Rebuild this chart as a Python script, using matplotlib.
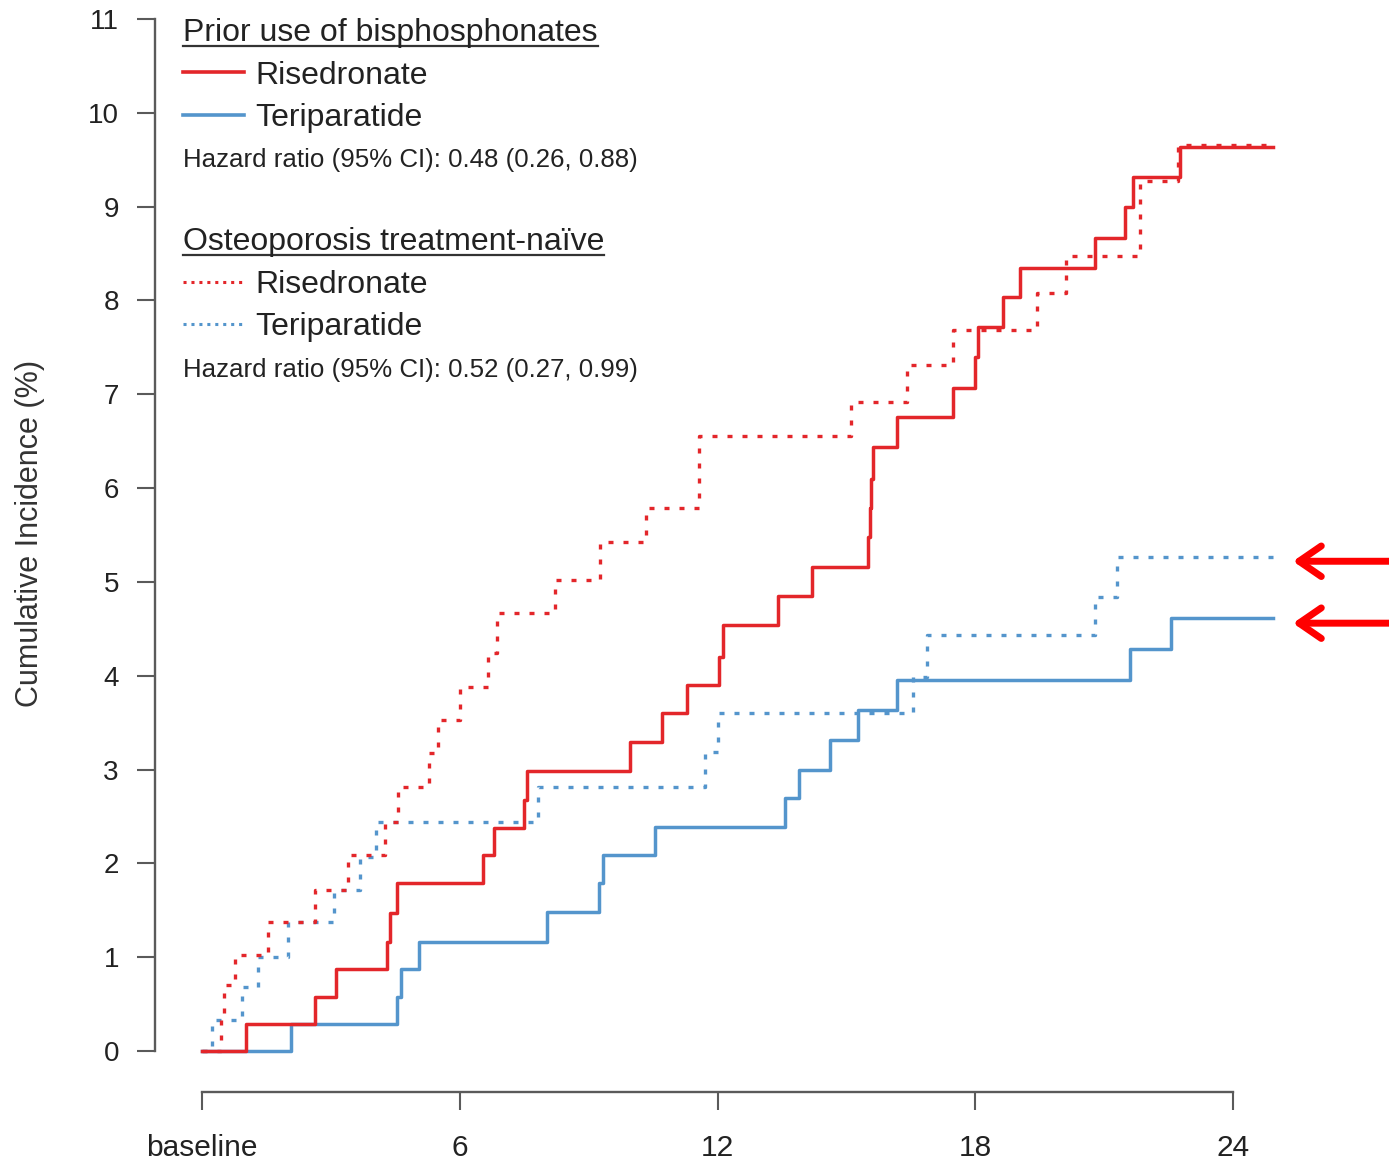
import matplotlib
matplotlib.use('Agg')
import matplotlib.pyplot as plt
from matplotlib.lines import Line2D

plt.rcParams['font.family'] = ['Liberation Sans', 'DejaVu Sans']

W, H, DPI = 1389, 1161, 100

RED = '#E3262A'
BLUE = '#5495CC'
AXIS = '#5a5a5a'

# follow-up end (months)
t_end = 24.93

# prior use of bisphosphonates - risedronate (solid red)
ris_prior_t = [1.02, 2.63, 3.12, 4.31, 4.38, 4.54, 6.54, 6.80, 7.50, 7.57, 9.96, 10.71,
               11.29, 12.03, 12.13, 13.41, 14.20, 15.50, 15.55, 15.57, 15.62, 16.18,
               17.48, 17.99, 18.06, 18.65, 19.04, 20.79, 21.49, 21.67, 22.77]
ris_prior_y = [0.29, 0.58, 0.87, 1.16, 1.47, 1.79, 2.09, 2.38, 2.68, 2.98, 3.29, 3.60,
               3.90, 4.20, 4.54, 4.85, 5.16, 5.48, 5.79, 6.10, 6.44, 6.76,
               7.07, 7.40, 7.72, 8.04, 8.35, 8.67, 9.00, 9.32, 9.64]

# prior use of bisphosphonates - teriparatide (solid blue)
ter_prior_t = [2.07, 4.54, 4.63, 5.05, 8.03, 9.24, 9.33, 10.54, 13.57, 13.90, 14.62,
               15.27, 16.18, 21.60, 22.56]
ter_prior_y = [0.29, 0.58, 0.87, 1.16, 1.48, 1.79, 2.09, 2.39, 2.70, 3.00, 3.31,
               3.63, 3.95, 4.28, 4.61]

# treatment-naive - risedronate (dotted red)
ris_naive_t = [0.44, 0.51, 0.77, 1.54, 2.63, 3.40, 4.26, 4.56, 5.28, 5.49, 6.01, 6.66,
               6.87, 8.22, 9.26, 10.34, 11.57, 15.11, 16.41, 17.48, 19.44, 20.11,
               21.83, 22.72]
ris_naive_y = [0.35, 0.70, 1.02, 1.38, 1.72, 2.09, 2.44, 2.81, 3.18, 3.53, 3.88, 4.24,
               4.67, 5.02, 5.42, 5.79, 6.55, 6.92, 7.31, 7.69, 8.08, 8.47,
               9.27, 9.66]

# treatment-naive - teriparatide (dotted blue)
ter_naive_t = [0.23, 0.93, 1.30, 2.00, 3.07, 3.68, 4.05, 7.82, 11.71, 12.01, 16.55,
               16.88, 20.79, 21.30]
ter_naive_y = [0.33, 0.68, 1.00, 1.38, 1.72, 2.07, 2.44, 2.81, 3.19, 3.60, 3.99,
               4.43, 4.84, 5.27]

x_ticks = [0, 6, 12, 18, 24]
x_labels = ['baseline', '6', '12', '18', '24']
y_ticks = list(range(12))


def curve(t, y):
    return [0] + t + [t_end], [0] + y + [y[-1]]


def fx(px):
    return px / W


def fy(py):
    return 1 - py / H


fig = plt.figure(figsize=(W / DPI, H / DPI), dpi=DPI)
ax = fig.add_axes([155 / W, (H - 1092) / H, (W - 155) / W, (1092 - 10) / H])

px_m, x0 = 42.96, 202
px_u, y0 = 93.82, 1051
ax.set_xlim((155 - x0) / px_m, (W - x0) / px_m)
ax.set_ylim((y0 - 1092) / px_u, (y0 - 10) / px_u)

dots = (1.5, 3.0)
x, y = curve(ter_naive_t, ter_naive_y)
ax.step(x, y, where='post', color=BLUE, lw=2.4, dashes=dots)
x, y = curve(ris_naive_t, ris_naive_y)
ax.step(x, y, where='post', color=RED, lw=2.4, dashes=dots)
x, y = curve(ter_prior_t, ter_prior_y)
ax.step(x, y, where='post', color=BLUE, lw=2.5)
x, y = curve(ris_prior_t, ris_prior_y)
ax.step(x, y, where='post', color=RED, lw=2.5)

# axes in R style
for s in ['top', 'right']:
    ax.spines[s].set_visible(False)
ax.spines['left'].set_bounds(0, 11)
ax.spines['bottom'].set_bounds(0, 24)
for s in ['left', 'bottom']:
    ax.spines[s].set_color(AXIS)
    ax.spines[s].set_linewidth(1.7)

ax.set_yticks(y_ticks)
ax.set_yticklabels([str(v) for v in y_ticks])
ax.set_xticks(x_ticks)
ax.set_xticklabels(x_labels)
ax.tick_params(axis='y', length=13, width=1.5, pad=13, labelsize=20,
               color=AXIS, labelcolor='#222222')
ax.tick_params(axis='x', length=13, width=1.5, pad=17, labelsize=21.5,
               color=AXIS, labelcolor='#222222')

fig.text(fx(30), fy(533), 'Cumulative Incidence (%)', rotation=90,
         ha='center', va='center', fontsize=22, color='#333333')

# arrows pointing at the teriparatide curve ends
for yv in [ter_naive_y[-1], ter_prior_y[-1]]:
    ax.annotate('', xy=(t_end + 0.4, yv - 0.05), xytext=(t_end + 3.2, yv - 0.05),
                arrowprops=dict(arrowstyle='->,head_length=0.8,head_width=0.55',
                                color='#FF0000', lw=5, mutation_scale=20),
                annotation_clip=False)

# legend block
headers = []
headers.append(fig.text(fx(183), fy(41), 'Prior use of bisphosphonates',
                        fontsize=23, color='#222222', va='baseline'))
fig.add_artist(Line2D([fx(183), fx(244)], [fy(72)] * 2, color=RED, lw=2.6))
fig.text(fx(255), fy(84), 'Risedronate', fontsize=23, color='#222222', va='baseline')
fig.add_artist(Line2D([fx(183), fx(244)], [fy(115)] * 2, color=BLUE, lw=2.6))
fig.text(fx(255), fy(126), 'Teriparatide', fontsize=23, color='#222222', va='baseline')
fig.text(fx(183), fy(167), 'Hazard ratio (95% CI): 0.48 (0.26, 0.88)',
         fontsize=18.6, color='#222222', va='baseline')

headers.append(fig.text(fx(183), fy(250), 'Osteoporosis treatment-naïve',
                        fontsize=23, color='#222222', va='baseline'))
fig.add_artist(Line2D([fx(183), fx(244)], [fy(282)] * 2, color=RED, lw=2.2,
                      dashes=(1.0, 1.6)))
fig.text(fx(255), fy(293), 'Risedronate', fontsize=23, color='#222222', va='baseline')
fig.add_artist(Line2D([fx(183), fx(244)], [fy(324)] * 2, color=BLUE, lw=2.2,
                      dashes=(1.0, 1.6)))
fig.text(fx(255), fy(335), 'Teriparatide', fontsize=23, color='#222222', va='baseline')
fig.text(fx(183), fy(377), 'Hazard ratio (95% CI): 0.52 (0.27, 0.99)',
         fontsize=18.6, color='#222222', va='baseline')

# underline the two headers
fig.canvas.draw()
for t, uy in zip(headers, [46, 255]):
    bb = t.get_window_extent()
    fig.add_artist(Line2D([bb.x0 / W, bb.x1 / W], [fy(uy)] * 2, color='#333333', lw=1.6))

fig.savefig('out.png', dpi=DPI)
